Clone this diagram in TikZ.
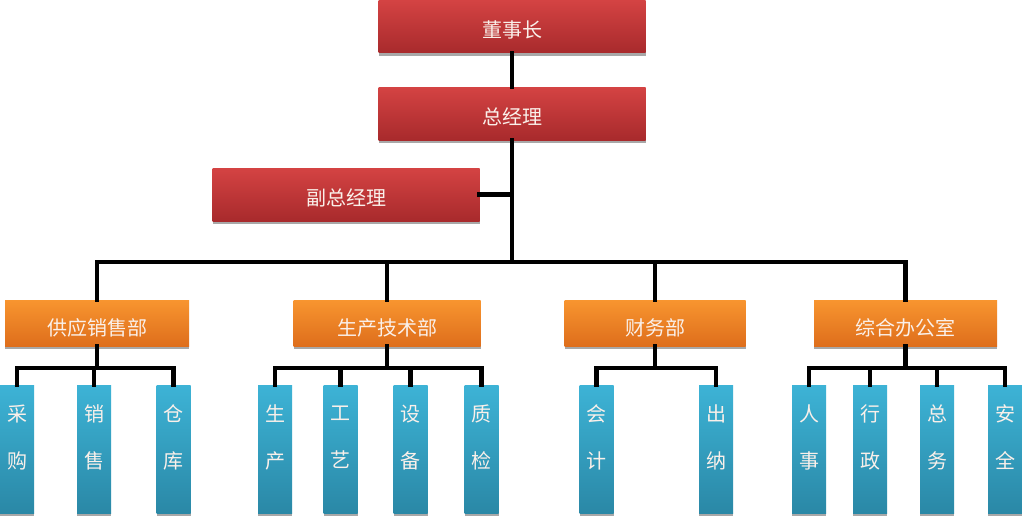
\documentclass[tikz,border=0pt]{standalone}
\usepackage{fontspec}
\setmainfont{Noto Sans CJK SC}
\definecolor{redtop}{HTML}{D44343}
\definecolor{redbot}{HTML}{A82A2C}
\definecolor{orgtop}{HTML}{F8952F}
\definecolor{orgbot}{HTML}{DE6E1C}
\definecolor{bluetop}{HTML}{3DB3D6}
\definecolor{bluebot}{HTML}{2A88A6}
\definecolor{shadowgray}{HTML}{A8A8A8}
\definecolor{boxtext}{HTML}{FAF0EA}
\begin{document}
\begin{tikzpicture}[x=1pt,y=-1pt,
  box/.style={rectangle, inner sep=0pt, text=boxtext, font=\fontsize{20}{24}\selectfont,
     preaction={fill=shadowgray, transform canvas={yshift=-3pt}}},
  redbox/.style={box, top color=redtop, bottom color=redbot, minimum width=267pt, minimum height=53pt,
     text height=22pt, text depth=0pt},
  orgbox/.style={box, top color=orgtop, bottom color=orgbot, minimum height=46pt,
     text height=24pt, text depth=0pt},
  leafbox/.style={box, top color=bluetop, bottom color=bluebot, minimum width=34pt, minimum height=128pt},
  leaftext/.style={inner sep=0pt, text=boxtext, align=center, font=\fontsize{20}{47}\selectfont},
  link/.style={line width=4.8pt, black, line cap=rect}
]
\useasboundingbox (0,0) rectangle (1022,519);
\fill[white] (0,0) rectangle (1022,519);

% top level
\node[redbox] (chair) at (512,26.5) {董事长};
\node[redbox] (gm) at (512,113.5) {总经理};
\node[redbox] (vp) at (346,194.5) {副总经理};

% departments
\node[orgbox, minimum width=184pt] (d1) at (97,323) {供应销售部};
\node[orgbox, minimum width=187pt] (d2) at (387,323) {生产技术部};
\node[orgbox, minimum width=181pt] (d3) at (655,323) {财务部};
\node[orgbox, minimum width=183pt] (d4) at (905.5,323) {综合办公室};

% leaves
\node[leafbox] (l11) at (17,449) {};
\node[leafbox] (l12) at (94,449) {};
\node[leafbox] (l13) at (173.5,449) {};
\node[leafbox] (l21) at (275,449) {};
\node[leafbox] (l22) at (340.5,449) {};
\node[leafbox] (l23) at (410.5,449) {};
\node[leafbox] (l24) at (481.5,449) {};
\node[leafbox] (l31) at (596.5,449) {};
\node[leafbox] (l32) at (716,449) {};
\node[leafbox] (l41) at (809,449) {};
\node[leafbox] (l42) at (870,449) {};
\node[leafbox] (l43) at (937,449) {};
\node[leafbox] (l44) at (1005,449) {};

\node[leaftext] (t11) at ([yshift=-52.5pt]l11.north) {采\\购};
\node[leaftext] (t12) at ([yshift=-52.5pt]l12.north) {销\\售};
\node[leaftext] (t13) at ([yshift=-52.5pt]l13.north) {仓\\库};
\node[leaftext] (t21) at ([yshift=-52.5pt]l21.north) {生\\产};
\node[leaftext] (t22) at ([yshift=-52.5pt]l22.north) {工\\艺};
\node[leaftext] (t23) at ([yshift=-52.5pt]l23.north) {设\\备};
\node[leaftext] (t24) at ([yshift=-52.5pt]l24.north) {质\\检};
\node[leaftext] (t31) at ([yshift=-52.5pt]l31.north) {会\\计};
\node[leaftext] (t32) at ([yshift=-52.5pt]l32.north) {出\\纳};
\node[leaftext] (t41) at ([yshift=-52.5pt]l41.north) {人\\事};
\node[leaftext] (t42) at ([yshift=-52.5pt]l42.north) {行\\政};
\node[leaftext] (t43) at ([yshift=-52.5pt]l43.north) {总\\务};
\node[leaftext] (t44) at ([yshift=-52.5pt]l44.north) {安\\全};

% bus coordinates
\coordinate (bus) at (512,262);
\coordinate (s1) at (97,368);
\coordinate (s2) at (387,368);
\coordinate (s3) at (655,368);
\coordinate (s4) at (905.5,368);

% connectors
\draw[link] (chair.south) -- (gm.north);
\draw[link] (gm.south) -- (bus);
\draw[link] (vp.east) -- (vp.east -| gm.south);
\draw[link] (d1.north) |- (bus) -| (d4.north);
\draw[link] (d2.north) -- (d2.north |- bus);
\draw[link] (d3.north) -- (d3.north |- bus);

\draw[link] (d1.south) -- (s1);
\draw[link] (l11.north) |- (s1) -| (l13.north);
\draw[link] (l12.north) -- (l12.north |- s1);

\draw[link] (d2.south) -- (s2);
\draw[link] (l21.north) |- (s2) -| (l24.north);
\draw[link] (l22.north) -- (l22.north |- s2);
\draw[link] (l23.north) -- (l23.north |- s2);

\draw[link] (d3.south) -- (s3);
\draw[link] (l31.north) |- (s3) -| (l32.north);

\draw[link] (d4.south) -- (s4);
\draw[link] (l41.north) |- (s4) -| (l44.north);
\draw[link] (l42.north) -- (l42.north |- s4);
\draw[link] (l43.north) -- (l43.north |- s4);
\end{tikzpicture}
\end{document}
